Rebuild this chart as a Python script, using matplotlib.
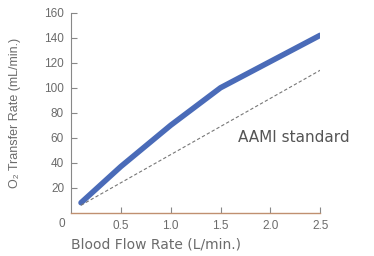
"""O2 transfer rate vs blood flow rate, with the AAMI standard line."""
import matplotlib.pyplot as plt

plt.rcParams['font.family'] = ['Liberation Sans', 'DejaVu Sans']

# measured device curve
flow = [0.1, 0.5, 1.0, 1.5, 2.0, 2.5]
o2_rate = [8, 37, 70, 100, 121, 142]

# AAMI standard (straight reference line)
aami_flow = [0.1, 2.5]
aami_rate = [6, 114]

x_ticks = [0.5, 1.0, 1.5, 2.0, 2.5]
y_ticks = [20, 40, 60, 80, 100, 120, 140, 160]

text_col = "#6b6b6b"


def main():
    fig = plt.figure(figsize=(3.74, 2.56), dpi=100)
    ax = fig.add_axes([0.19, 0.169, 0.666, 0.781])

    ax.plot(flow, o2_rate, color="#4a6bb8", lw=4.0, solid_capstyle="round")
    ax.plot(aami_flow, aami_rate, color="#777777", lw=0.8, ls=(0, (3, 2)))
    ax.text(1.68, 60, "AAMI standard", color="#555555", fontsize=11,
            va="center", family="DejaVu Sans")

    ax.set_xlim(0, 2.5)
    ax.set_ylim(0, 160)
    ax.set_xticks(x_ticks)
    ax.set_xticklabels([f"{v:.1f}" for v in x_ticks])
    ax.set_yticks(y_ticks)
    ax.tick_params(axis="both", direction="in", length=4, width=0.8,
                   colors="#888888", labelcolor=text_col, labelsize=8.5, pad=5)
    ax.text(-0.036, -0.056, "0", transform=ax.transAxes, ha="center",
            va="center", color=text_col, fontsize=8.5)

    for side in ("top", "right"):
        ax.spines[side].set_visible(False)
    ax.spines["left"].set_color("#888888")
    ax.spines["left"].set_linewidth(0.8)
    ax.spines["bottom"].set_color("#c09070")
    ax.spines["bottom"].set_linewidth(1.0)

    ax.set_xlabel("Blood Flow Rate (L/min.)", loc="left", color=text_col,
                  fontsize=10, labelpad=4, family="DejaVu Sans")
    ax.set_ylabel("O₂ Transfer Rate (mL/min.)", color=text_col, fontsize=9,
                  labelpad=17)

    fig.savefig("out.png", dpi=100)


if __name__ == "__main__":
    main()
